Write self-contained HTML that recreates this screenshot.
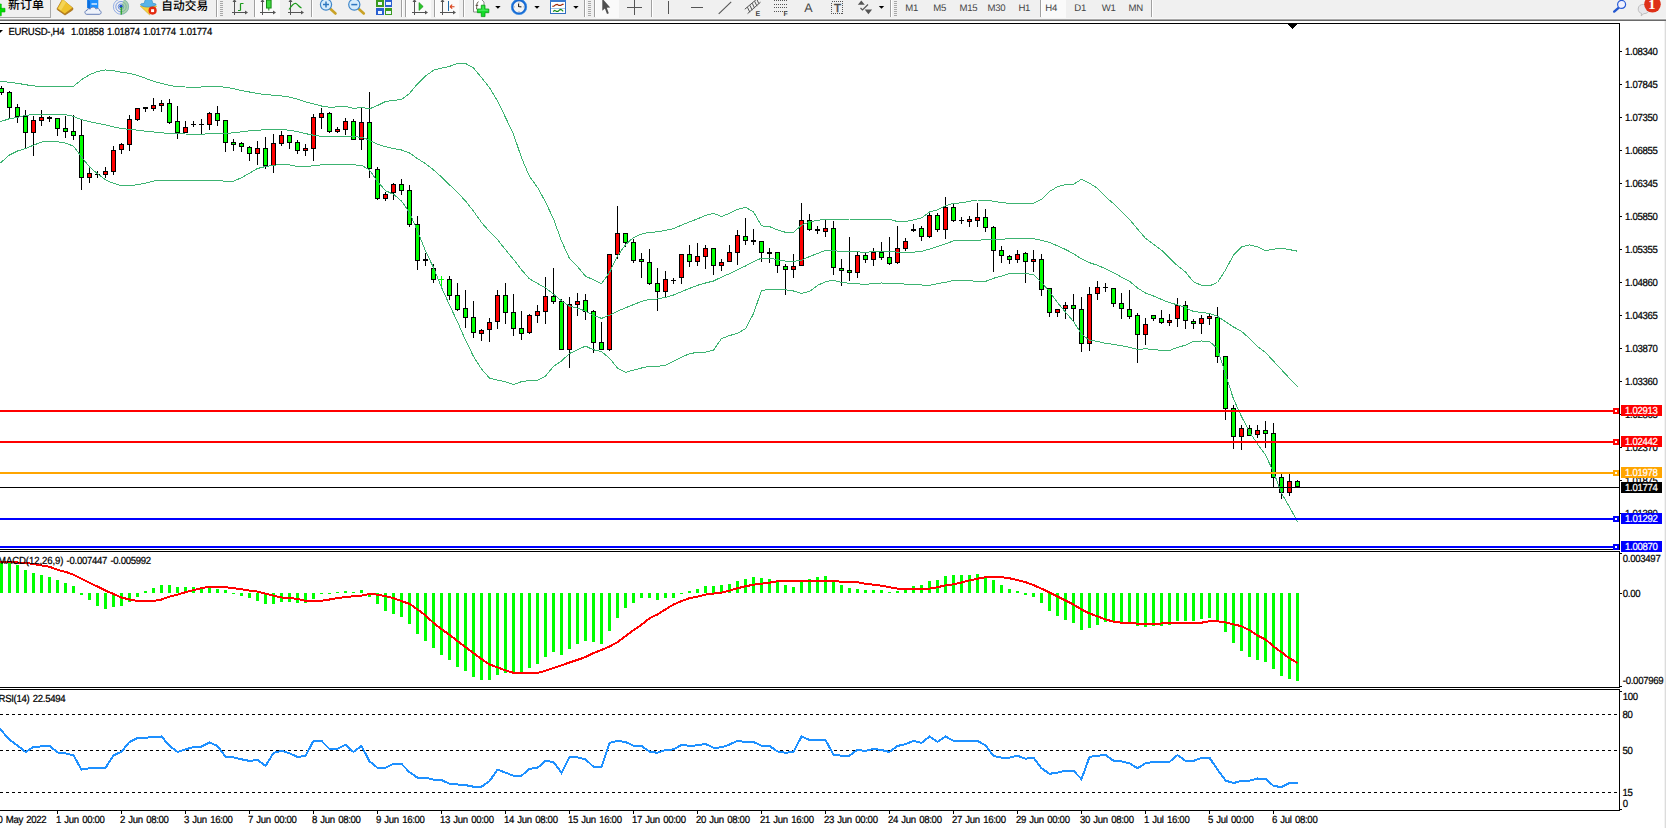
<!DOCTYPE html>
<html lang="zh"><head><meta charset="utf-8"><title>EURUSD-,H4</title>
<style>
html,body{margin:0;padding:0;background:#fff}
body{width:1666px;height:828px;overflow:hidden}
svg{display:block;position:absolute;left:0;top:0}
text{font-family:"Liberation Sans","Noto Sans CJK SC",sans-serif;font-size:9.6px;letter-spacing:-0.3px;word-spacing:0.9px;fill:#000;text-rendering:geometricPrecision;stroke:#000;stroke-width:.22px}
.cj{stroke:none;font-size:12px;font-weight:500;letter-spacing:0}
.tb{fill:#444;stroke:none}
.w{fill:#fff;stroke:#fff}
</style></head><body>
<svg width="1666" height="828" viewBox="0 0 1666 828">
<rect x="0" y="0" width="1666" height="828" fill="#fff"/>
<g shape-rendering="crispEdges">
<rect x="0" y="0" width="1666" height="19" fill="#f0f0f0"/>
<rect x="0" y="18" width="1666" height="1" fill="#f6f6f6"/><rect x="0" y="19" width="1666" height="1" fill="#a8a8a8"/>
<rect x="0" y="20" width="1666" height="1" fill="#6a6a6a"/>
<rect x="1664" y="21" width="1" height="807" fill="#f3f3f3"/><rect x="1665" y="21" width="1" height="807" fill="#dcdcdc"/>
<rect x="0" y="23" width="1620" height="1" fill="#000"/>
<rect x="1619" y="23" width="1" height="788" fill="#000"/>
<rect x="0" y="549" width="1620" height="1" fill="#000"/>
<rect x="0" y="550" width="1620" height="1" fill="#fff"/>
<rect x="0" y="551" width="1620" height="1" fill="#000"/>
<rect x="0" y="687" width="1620" height="1" fill="#000"/>
<rect x="0" y="688" width="1620" height="1" fill="#fff"/>
<rect x="0" y="689" width="1620" height="1" fill="#000"/>
<rect x="0" y="810" width="1620" height="1" fill="#000"/>
</g>
<g id="candles" shape-rendering="crispEdges">
<rect x="1" y="86" width="1" height="9" fill="#000"/><rect x="-1" y="88" width="5" height="5" fill="#000"/><rect x="0" y="89" width="3" height="3" fill="#0f0"/>
<rect x="9" y="91" width="1" height="27" fill="#000"/><rect x="7" y="92" width="5" height="16" fill="#000"/><rect x="8" y="93" width="3" height="14" fill="#0f0"/>
<rect x="17" y="104" width="1" height="19" fill="#000"/><rect x="15" y="107" width="5" height="10" fill="#000"/><rect x="16" y="108" width="3" height="8" fill="#0f0"/>
<rect x="25" y="110" width="1" height="39" fill="#000"/><rect x="23" y="116" width="5" height="17" fill="#000"/><rect x="24" y="117" width="3" height="15" fill="#0f0"/>
<rect x="33" y="116" width="1" height="40" fill="#000"/><rect x="31" y="120" width="5" height="13" fill="#000"/><rect x="32" y="121" width="3" height="11" fill="#f00"/>
<rect x="41" y="110" width="1" height="16" fill="#000"/><rect x="39" y="117" width="5" height="4" fill="#000"/><rect x="40" y="118" width="3" height="2" fill="#f00"/>
<rect x="49" y="116" width="1" height="6" fill="#000"/><rect x="47" y="117" width="5" height="2" fill="#000"/>
<rect x="57" y="118" width="1" height="18" fill="#000"/><rect x="55" y="118" width="5" height="11" fill="#000"/><rect x="56" y="119" width="3" height="9" fill="#0f0"/>
<rect x="65" y="116" width="1" height="22" fill="#000"/><rect x="63" y="128" width="5" height="4" fill="#000"/><rect x="64" y="129" width="3" height="2" fill="#0f0"/>
<rect x="73" y="115" width="1" height="25" fill="#000"/><rect x="71" y="131" width="5" height="5" fill="#000"/><rect x="72" y="132" width="3" height="3" fill="#0f0"/>
<rect x="81" y="120" width="1" height="70" fill="#000"/><rect x="79" y="135" width="5" height="43" fill="#000"/><rect x="80" y="136" width="3" height="41" fill="#0f0"/>
<rect x="89" y="168" width="1" height="15" fill="#000"/><rect x="87" y="173" width="5" height="5" fill="#000"/><rect x="88" y="174" width="3" height="3" fill="#f00"/>
<rect x="97" y="171" width="1" height="7" fill="#000"/><rect x="95" y="174" width="5" height="1" fill="#000"/>
<rect x="105" y="167" width="1" height="11" fill="#000"/><rect x="103" y="171" width="5" height="4" fill="#000"/><rect x="104" y="172" width="3" height="2" fill="#f00"/>
<rect x="113" y="146" width="1" height="29" fill="#000"/><rect x="111" y="150" width="5" height="22" fill="#000"/><rect x="112" y="151" width="3" height="20" fill="#f00"/>
<rect x="121" y="143" width="1" height="11" fill="#000"/><rect x="119" y="144" width="5" height="6" fill="#000"/><rect x="120" y="145" width="3" height="4" fill="#f00"/>
<rect x="129" y="115" width="1" height="36" fill="#000"/><rect x="127" y="119" width="5" height="26" fill="#000"/><rect x="128" y="120" width="3" height="24" fill="#f00"/>
<rect x="137" y="108" width="1" height="13" fill="#000"/><rect x="135" y="108" width="5" height="12" fill="#000"/><rect x="136" y="109" width="3" height="10" fill="#f00"/>
<rect x="145" y="107" width="1" height="5" fill="#000"/><rect x="143" y="107" width="5" height="2" fill="#000"/>
<rect x="153" y="98" width="1" height="13" fill="#000"/><rect x="151" y="105" width="5" height="4" fill="#000"/><rect x="152" y="106" width="3" height="2" fill="#f00"/>
<rect x="161" y="100" width="1" height="12" fill="#000"/><rect x="159" y="103" width="5" height="3" fill="#000"/><rect x="160" y="104" width="3" height="1" fill="#f00"/>
<rect x="169" y="99" width="1" height="25" fill="#000"/><rect x="167" y="103" width="5" height="20" fill="#000"/><rect x="168" y="104" width="3" height="18" fill="#0f0"/>
<rect x="177" y="106" width="1" height="33" fill="#000"/><rect x="175" y="121" width="5" height="12" fill="#000"/><rect x="176" y="122" width="3" height="10" fill="#0f0"/>
<rect x="185" y="121" width="1" height="12" fill="#000"/><rect x="183" y="127" width="5" height="6" fill="#000"/><rect x="184" y="128" width="3" height="4" fill="#f00"/>
<rect x="193" y="121" width="1" height="6" fill="#000"/><rect x="191" y="124" width="5" height="1" fill="#000"/>
<rect x="201" y="119" width="1" height="16" fill="#000"/><rect x="199" y="124" width="5" height="1" fill="#000"/>
<rect x="209" y="112" width="1" height="18" fill="#000"/><rect x="207" y="113" width="5" height="12" fill="#000"/><rect x="208" y="114" width="3" height="10" fill="#f00"/>
<rect x="217" y="106" width="1" height="20" fill="#000"/><rect x="215" y="113" width="5" height="8" fill="#000"/><rect x="216" y="114" width="3" height="6" fill="#0f0"/>
<rect x="225" y="120" width="1" height="32" fill="#000"/><rect x="223" y="120" width="5" height="23" fill="#000"/><rect x="224" y="121" width="3" height="21" fill="#0f0"/>
<rect x="233" y="139" width="1" height="12" fill="#000"/><rect x="231" y="142" width="5" height="3" fill="#000"/><rect x="232" y="143" width="3" height="1" fill="#0f0"/>
<rect x="241" y="142" width="1" height="10" fill="#000"/><rect x="239" y="143" width="5" height="4" fill="#000"/><rect x="240" y="144" width="3" height="2" fill="#0f0"/>
<rect x="249" y="146" width="1" height="15" fill="#000"/><rect x="247" y="147" width="5" height="7" fill="#000"/><rect x="248" y="148" width="3" height="5" fill="#0f0"/>
<rect x="257" y="141" width="1" height="24" fill="#000"/><rect x="255" y="148" width="5" height="6" fill="#000"/><rect x="256" y="149" width="3" height="4" fill="#f00"/>
<rect x="265" y="137" width="1" height="32" fill="#000"/><rect x="263" y="148" width="5" height="18" fill="#000"/><rect x="264" y="149" width="3" height="16" fill="#0f0"/>
<rect x="273" y="134" width="1" height="39" fill="#000"/><rect x="271" y="143" width="5" height="23" fill="#000"/><rect x="272" y="144" width="3" height="21" fill="#f00"/>
<rect x="281" y="131" width="1" height="15" fill="#000"/><rect x="279" y="135" width="5" height="9" fill="#000"/><rect x="280" y="136" width="3" height="7" fill="#f00"/>
<rect x="289" y="135" width="1" height="14" fill="#000"/><rect x="287" y="135" width="5" height="8" fill="#000"/><rect x="288" y="136" width="3" height="6" fill="#0f0"/>
<rect x="297" y="140" width="1" height="14" fill="#000"/><rect x="295" y="142" width="5" height="9" fill="#000"/><rect x="296" y="143" width="3" height="7" fill="#0f0"/>
<rect x="305" y="144" width="1" height="12" fill="#000"/><rect x="303" y="148" width="5" height="3" fill="#000"/><rect x="304" y="149" width="3" height="1" fill="#f00"/>
<rect x="313" y="114" width="1" height="47" fill="#000"/><rect x="311" y="117" width="5" height="32" fill="#000"/><rect x="312" y="118" width="3" height="30" fill="#f00"/>
<rect x="321" y="108" width="1" height="21" fill="#000"/><rect x="319" y="113" width="5" height="5" fill="#000"/><rect x="320" y="114" width="3" height="3" fill="#f00"/>
<rect x="329" y="112" width="1" height="21" fill="#000"/><rect x="327" y="113" width="5" height="19" fill="#000"/><rect x="328" y="114" width="3" height="17" fill="#0f0"/>
<rect x="337" y="127" width="1" height="6" fill="#000"/><rect x="335" y="129" width="5" height="3" fill="#000"/><rect x="336" y="130" width="3" height="1" fill="#f00"/>
<rect x="345" y="118" width="1" height="17" fill="#000"/><rect x="343" y="121" width="5" height="9" fill="#000"/><rect x="344" y="122" width="3" height="7" fill="#f00"/>
<rect x="353" y="119" width="1" height="21" fill="#000"/><rect x="351" y="121" width="5" height="19" fill="#000"/><rect x="352" y="122" width="3" height="17" fill="#0f0"/>
<rect x="361" y="108" width="1" height="42" fill="#000"/><rect x="359" y="122" width="5" height="18" fill="#000"/><rect x="360" y="123" width="3" height="16" fill="#f00"/>
<rect x="369" y="92" width="1" height="86" fill="#000"/><rect x="367" y="122" width="5" height="47" fill="#000"/><rect x="368" y="123" width="3" height="45" fill="#0f0"/>
<rect x="377" y="167" width="1" height="33" fill="#000"/><rect x="375" y="169" width="5" height="30" fill="#000"/><rect x="376" y="170" width="3" height="28" fill="#0f0"/>
<rect x="385" y="192" width="1" height="9" fill="#000"/><rect x="383" y="194" width="5" height="5" fill="#000"/><rect x="384" y="195" width="3" height="3" fill="#f00"/>
<rect x="393" y="183" width="1" height="17" fill="#000"/><rect x="391" y="184" width="5" height="9" fill="#000"/><rect x="392" y="185" width="3" height="7" fill="#f00"/>
<rect x="401" y="179" width="1" height="16" fill="#000"/><rect x="399" y="184" width="5" height="7" fill="#000"/><rect x="400" y="185" width="3" height="5" fill="#0f0"/>
<rect x="409" y="185" width="1" height="42" fill="#000"/><rect x="407" y="190" width="5" height="35" fill="#000"/><rect x="408" y="191" width="3" height="33" fill="#0f0"/>
<rect x="417" y="216" width="1" height="54" fill="#000"/><rect x="415" y="224" width="5" height="37" fill="#000"/><rect x="416" y="225" width="3" height="35" fill="#0f0"/>
<rect x="425" y="253" width="1" height="13" fill="#000"/><rect x="423" y="259" width="5" height="2" fill="#000"/>
<rect x="433" y="264" width="1" height="19" fill="#000"/><rect x="431" y="268" width="5" height="12" fill="#000"/><rect x="432" y="269" width="3" height="10" fill="#0f0"/>
<rect x="441" y="276" width="1" height="12" fill="#0f0"/><rect x="439" y="279" width="5" height="1" fill="#0f0"/>
<rect x="449" y="276" width="1" height="24" fill="#000"/><rect x="447" y="279" width="5" height="17" fill="#000"/><rect x="448" y="280" width="3" height="15" fill="#0f0"/>
<rect x="457" y="283" width="1" height="28" fill="#000"/><rect x="455" y="295" width="5" height="15" fill="#000"/><rect x="456" y="296" width="3" height="13" fill="#0f0"/>
<rect x="465" y="290" width="1" height="38" fill="#000"/><rect x="463" y="308" width="5" height="10" fill="#000"/><rect x="464" y="309" width="3" height="8" fill="#0f0"/>
<rect x="473" y="301" width="1" height="37" fill="#000"/><rect x="471" y="317" width="5" height="16" fill="#000"/><rect x="472" y="318" width="3" height="14" fill="#0f0"/>
<rect x="481" y="329" width="1" height="12" fill="#000"/><rect x="479" y="330" width="5" height="4" fill="#000"/><rect x="480" y="331" width="3" height="2" fill="#f00"/>
<rect x="489" y="318" width="1" height="24" fill="#000"/><rect x="487" y="322" width="5" height="8" fill="#000"/><rect x="488" y="323" width="3" height="6" fill="#f00"/>
<rect x="497" y="290" width="1" height="39" fill="#000"/><rect x="495" y="295" width="5" height="27" fill="#000"/><rect x="496" y="296" width="3" height="25" fill="#f00"/>
<rect x="505" y="283" width="1" height="41" fill="#000"/><rect x="503" y="295" width="5" height="18" fill="#000"/><rect x="504" y="296" width="3" height="16" fill="#0f0"/>
<rect x="513" y="294" width="1" height="42" fill="#000"/><rect x="511" y="312" width="5" height="17" fill="#000"/><rect x="512" y="313" width="3" height="15" fill="#0f0"/>
<rect x="521" y="311" width="1" height="29" fill="#000"/><rect x="519" y="328" width="5" height="6" fill="#000"/><rect x="520" y="329" width="3" height="4" fill="#0f0"/>
<rect x="529" y="314" width="1" height="20" fill="#000"/><rect x="527" y="315" width="5" height="18" fill="#000"/><rect x="528" y="316" width="3" height="16" fill="#f00"/>
<rect x="537" y="305" width="1" height="18" fill="#000"/><rect x="535" y="311" width="5" height="5" fill="#000"/><rect x="536" y="312" width="3" height="3" fill="#f00"/>
<rect x="545" y="277" width="1" height="47" fill="#000"/><rect x="543" y="296" width="5" height="16" fill="#000"/><rect x="544" y="297" width="3" height="14" fill="#f00"/>
<rect x="553" y="268" width="1" height="36" fill="#000"/><rect x="551" y="296" width="5" height="6" fill="#000"/><rect x="552" y="297" width="3" height="4" fill="#0f0"/>
<rect x="561" y="299" width="1" height="51" fill="#000"/><rect x="559" y="301" width="5" height="49" fill="#000"/><rect x="560" y="302" width="3" height="47" fill="#0f0"/>
<rect x="569" y="297" width="1" height="71" fill="#000"/><rect x="567" y="304" width="5" height="46" fill="#000"/><rect x="568" y="305" width="3" height="44" fill="#f00"/>
<rect x="577" y="293" width="1" height="23" fill="#000"/><rect x="575" y="301" width="5" height="4" fill="#000"/><rect x="576" y="302" width="3" height="2" fill="#f00"/>
<rect x="585" y="294" width="1" height="26" fill="#000"/><rect x="583" y="300" width="5" height="12" fill="#000"/><rect x="584" y="301" width="3" height="10" fill="#0f0"/>
<rect x="593" y="310" width="1" height="43" fill="#000"/><rect x="591" y="311" width="5" height="32" fill="#000"/><rect x="592" y="312" width="3" height="30" fill="#0f0"/>
<rect x="601" y="322" width="1" height="28" fill="#000"/><rect x="599" y="342" width="5" height="8" fill="#000"/><rect x="600" y="343" width="3" height="6" fill="#0f0"/>
<rect x="609" y="254" width="1" height="97" fill="#000"/><rect x="607" y="254" width="5" height="96" fill="#000"/><rect x="608" y="255" width="3" height="94" fill="#f00"/>
<rect x="617" y="206" width="1" height="53" fill="#000"/><rect x="615" y="233" width="5" height="22" fill="#000"/><rect x="616" y="234" width="3" height="20" fill="#f00"/>
<rect x="625" y="233" width="1" height="14" fill="#000"/><rect x="623" y="233" width="5" height="10" fill="#000"/><rect x="624" y="234" width="3" height="8" fill="#0f0"/>
<rect x="633" y="239" width="1" height="24" fill="#000"/><rect x="631" y="242" width="5" height="19" fill="#000"/><rect x="632" y="243" width="3" height="17" fill="#0f0"/>
<rect x="641" y="253" width="1" height="25" fill="#000"/><rect x="639" y="259" width="5" height="3" fill="#000"/><rect x="640" y="260" width="3" height="1" fill="#0f0"/>
<rect x="649" y="249" width="1" height="36" fill="#000"/><rect x="647" y="262" width="5" height="22" fill="#000"/><rect x="648" y="263" width="3" height="20" fill="#0f0"/>
<rect x="657" y="268" width="1" height="43" fill="#000"/><rect x="655" y="283" width="5" height="9" fill="#000"/><rect x="656" y="284" width="3" height="7" fill="#0f0"/>
<rect x="665" y="271" width="1" height="26" fill="#000"/><rect x="663" y="279" width="5" height="13" fill="#000"/><rect x="664" y="280" width="3" height="11" fill="#f00"/>
<rect x="673" y="278" width="1" height="6" fill="#000"/><rect x="671" y="280" width="5" height="1" fill="#000"/>
<rect x="681" y="254" width="1" height="30" fill="#000"/><rect x="679" y="254" width="5" height="24" fill="#000"/><rect x="680" y="255" width="3" height="22" fill="#f00"/>
<rect x="689" y="245" width="1" height="22" fill="#000"/><rect x="687" y="254" width="5" height="8" fill="#000"/><rect x="688" y="255" width="3" height="6" fill="#0f0"/>
<rect x="697" y="243" width="1" height="23" fill="#000"/><rect x="695" y="256" width="5" height="6" fill="#000"/><rect x="696" y="257" width="3" height="4" fill="#f00"/>
<rect x="705" y="245" width="1" height="24" fill="#000"/><rect x="703" y="248" width="5" height="9" fill="#000"/><rect x="704" y="249" width="3" height="7" fill="#f00"/>
<rect x="713" y="248" width="1" height="27" fill="#000"/><rect x="711" y="248" width="5" height="18" fill="#000"/><rect x="712" y="249" width="3" height="16" fill="#0f0"/>
<rect x="721" y="259" width="1" height="12" fill="#000"/><rect x="719" y="262" width="5" height="4" fill="#000"/><rect x="720" y="263" width="3" height="2" fill="#f00"/>
<rect x="729" y="245" width="1" height="17" fill="#000"/><rect x="727" y="252" width="5" height="10" fill="#000"/><rect x="728" y="253" width="3" height="8" fill="#f00"/>
<rect x="737" y="230" width="1" height="35" fill="#000"/><rect x="735" y="235" width="5" height="18" fill="#000"/><rect x="736" y="236" width="3" height="16" fill="#f00"/>
<rect x="745" y="218" width="1" height="27" fill="#000"/><rect x="743" y="236" width="5" height="5" fill="#000"/><rect x="744" y="237" width="3" height="3" fill="#0f0"/>
<rect x="753" y="229" width="1" height="16" fill="#000"/><rect x="751" y="240" width="5" height="2" fill="#000"/>
<rect x="761" y="241" width="1" height="21" fill="#000"/><rect x="759" y="241" width="5" height="12" fill="#000"/><rect x="760" y="242" width="3" height="10" fill="#0f0"/>
<rect x="769" y="248" width="1" height="15" fill="#000"/><rect x="767" y="252" width="5" height="2" fill="#000"/>
<rect x="777" y="252" width="1" height="21" fill="#000"/><rect x="775" y="252" width="5" height="14" fill="#000"/><rect x="776" y="253" width="3" height="12" fill="#0f0"/>
<rect x="785" y="264" width="1" height="31" fill="#000"/><rect x="783" y="266" width="5" height="4" fill="#000"/><rect x="784" y="267" width="3" height="2" fill="#0f0"/>
<rect x="793" y="254" width="1" height="24" fill="#000"/><rect x="791" y="266" width="5" height="4" fill="#000"/><rect x="792" y="267" width="3" height="2" fill="#f00"/>
<rect x="801" y="203" width="1" height="63" fill="#000"/><rect x="799" y="220" width="5" height="46" fill="#000"/><rect x="800" y="221" width="3" height="44" fill="#f00"/>
<rect x="809" y="214" width="1" height="17" fill="#000"/><rect x="807" y="220" width="5" height="10" fill="#000"/><rect x="808" y="221" width="3" height="8" fill="#0f0"/>
<rect x="817" y="226" width="1" height="8" fill="#000"/><rect x="815" y="229" width="5" height="2" fill="#000"/>
<rect x="825" y="220" width="1" height="17" fill="#000"/><rect x="823" y="228" width="5" height="4" fill="#000"/><rect x="824" y="229" width="3" height="2" fill="#f00"/>
<rect x="833" y="221" width="1" height="54" fill="#000"/><rect x="831" y="228" width="5" height="40" fill="#000"/><rect x="832" y="229" width="3" height="38" fill="#0f0"/>
<rect x="841" y="259" width="1" height="27" fill="#000"/><rect x="839" y="268" width="5" height="3" fill="#000"/><rect x="840" y="269" width="3" height="1" fill="#0f0"/>
<rect x="849" y="237" width="1" height="44" fill="#000"/><rect x="847" y="270" width="5" height="3" fill="#000"/><rect x="848" y="271" width="3" height="1" fill="#0f0"/>
<rect x="857" y="252" width="1" height="26" fill="#000"/><rect x="855" y="255" width="5" height="18" fill="#000"/><rect x="856" y="256" width="3" height="16" fill="#f00"/>
<rect x="865" y="253" width="1" height="10" fill="#000"/><rect x="863" y="255" width="5" height="5" fill="#000"/><rect x="864" y="256" width="3" height="3" fill="#0f0"/>
<rect x="873" y="248" width="1" height="18" fill="#000"/><rect x="871" y="252" width="5" height="8" fill="#000"/><rect x="872" y="253" width="3" height="6" fill="#f00"/>
<rect x="881" y="242" width="1" height="18" fill="#000"/><rect x="879" y="252" width="5" height="6" fill="#000"/><rect x="880" y="253" width="3" height="4" fill="#0f0"/>
<rect x="889" y="237" width="1" height="28" fill="#000"/><rect x="887" y="257" width="5" height="7" fill="#000"/><rect x="888" y="258" width="3" height="5" fill="#0f0"/>
<rect x="897" y="226" width="1" height="38" fill="#000"/><rect x="895" y="248" width="5" height="15" fill="#000"/><rect x="896" y="249" width="3" height="13" fill="#f00"/>
<rect x="905" y="238" width="1" height="13" fill="#000"/><rect x="903" y="241" width="5" height="8" fill="#000"/><rect x="904" y="242" width="3" height="6" fill="#f00"/>
<rect x="913" y="224" width="1" height="8" fill="#000"/><rect x="911" y="229" width="5" height="2" fill="#000"/>
<rect x="921" y="226" width="1" height="15" fill="#000"/><rect x="919" y="228" width="5" height="9" fill="#000"/><rect x="920" y="229" width="3" height="7" fill="#0f0"/>
<rect x="929" y="213" width="1" height="25" fill="#000"/><rect x="927" y="215" width="5" height="22" fill="#000"/><rect x="928" y="216" width="3" height="20" fill="#f00"/>
<rect x="937" y="213" width="1" height="19" fill="#000"/><rect x="935" y="215" width="5" height="15" fill="#000"/><rect x="936" y="216" width="3" height="13" fill="#0f0"/>
<rect x="945" y="197" width="1" height="42" fill="#000"/><rect x="943" y="207" width="5" height="23" fill="#000"/><rect x="944" y="208" width="3" height="21" fill="#f00"/>
<rect x="953" y="204" width="1" height="18" fill="#000"/><rect x="951" y="207" width="5" height="14" fill="#000"/><rect x="952" y="208" width="3" height="12" fill="#0f0"/>
<rect x="961" y="217" width="1" height="7" fill="#000"/><rect x="959" y="220" width="5" height="1" fill="#000"/>
<rect x="969" y="216" width="1" height="11" fill="#000"/><rect x="967" y="219" width="5" height="3" fill="#000"/><rect x="968" y="220" width="3" height="1" fill="#f00"/>
<rect x="977" y="203" width="1" height="24" fill="#000"/><rect x="975" y="217" width="5" height="4" fill="#000"/><rect x="976" y="218" width="3" height="2" fill="#f00"/>
<rect x="985" y="209" width="1" height="23" fill="#000"/><rect x="983" y="217" width="5" height="11" fill="#000"/><rect x="984" y="218" width="3" height="9" fill="#0f0"/>
<rect x="993" y="226" width="1" height="46" fill="#000"/><rect x="991" y="227" width="5" height="24" fill="#000"/><rect x="992" y="228" width="3" height="22" fill="#0f0"/>
<rect x="1001" y="246" width="1" height="17" fill="#000"/><rect x="999" y="250" width="5" height="6" fill="#000"/><rect x="1000" y="251" width="3" height="4" fill="#0f0"/>
<rect x="1009" y="255" width="1" height="9" fill="#000"/><rect x="1007" y="256" width="5" height="4" fill="#000"/><rect x="1008" y="257" width="3" height="2" fill="#0f0"/>
<rect x="1017" y="250" width="1" height="13" fill="#000"/><rect x="1015" y="254" width="5" height="6" fill="#000"/><rect x="1016" y="255" width="3" height="4" fill="#f00"/>
<rect x="1025" y="252" width="1" height="31" fill="#000"/><rect x="1023" y="253" width="5" height="9" fill="#000"/><rect x="1024" y="254" width="3" height="7" fill="#0f0"/>
<rect x="1033" y="250" width="1" height="22" fill="#000"/><rect x="1031" y="259" width="5" height="3" fill="#000"/><rect x="1032" y="260" width="3" height="1" fill="#f00"/>
<rect x="1041" y="254" width="1" height="42" fill="#000"/><rect x="1039" y="259" width="5" height="31" fill="#000"/><rect x="1040" y="260" width="3" height="29" fill="#0f0"/>
<rect x="1049" y="288" width="1" height="29" fill="#000"/><rect x="1047" y="288" width="5" height="25" fill="#000"/><rect x="1048" y="289" width="3" height="23" fill="#0f0"/>
<rect x="1057" y="309" width="1" height="8" fill="#000"/><rect x="1055" y="309" width="5" height="4" fill="#000"/><rect x="1056" y="310" width="3" height="2" fill="#f00"/>
<rect x="1065" y="302" width="1" height="17" fill="#000"/><rect x="1063" y="305" width="5" height="4" fill="#000"/><rect x="1064" y="306" width="3" height="2" fill="#f00"/>
<rect x="1073" y="294" width="1" height="27" fill="#000"/><rect x="1071" y="305" width="5" height="4" fill="#000"/><rect x="1072" y="306" width="3" height="2" fill="#0f0"/>
<rect x="1081" y="297" width="1" height="55" fill="#000"/><rect x="1079" y="309" width="5" height="35" fill="#000"/><rect x="1080" y="310" width="3" height="33" fill="#0f0"/>
<rect x="1089" y="287" width="1" height="64" fill="#000"/><rect x="1087" y="294" width="5" height="50" fill="#000"/><rect x="1088" y="295" width="3" height="48" fill="#f00"/>
<rect x="1097" y="281" width="1" height="19" fill="#000"/><rect x="1095" y="287" width="5" height="7" fill="#000"/><rect x="1096" y="288" width="3" height="5" fill="#f00"/>
<rect x="1105" y="283" width="1" height="9" fill="#000"/><rect x="1103" y="287" width="5" height="1" fill="#000"/>
<rect x="1113" y="288" width="1" height="19" fill="#000"/><rect x="1111" y="288" width="5" height="16" fill="#000"/><rect x="1112" y="289" width="3" height="14" fill="#0f0"/>
<rect x="1121" y="293" width="1" height="26" fill="#000"/><rect x="1119" y="303" width="5" height="6" fill="#000"/><rect x="1120" y="304" width="3" height="4" fill="#0f0"/>
<rect x="1129" y="290" width="1" height="29" fill="#000"/><rect x="1127" y="309" width="5" height="8" fill="#000"/><rect x="1128" y="310" width="3" height="6" fill="#0f0"/>
<rect x="1137" y="313" width="1" height="50" fill="#000"/><rect x="1135" y="315" width="5" height="20" fill="#000"/><rect x="1136" y="316" width="3" height="18" fill="#0f0"/>
<rect x="1145" y="318" width="1" height="27" fill="#000"/><rect x="1143" y="324" width="5" height="11" fill="#000"/><rect x="1144" y="325" width="3" height="9" fill="#f00"/>
<rect x="1153" y="315" width="1" height="6" fill="#000"/><rect x="1151" y="315" width="5" height="4" fill="#000"/><rect x="1152" y="316" width="3" height="2" fill="#0f0"/>
<rect x="1161" y="310" width="1" height="14" fill="#000"/><rect x="1159" y="318" width="5" height="5" fill="#000"/><rect x="1160" y="319" width="3" height="3" fill="#0f0"/>
<rect x="1169" y="314" width="1" height="12" fill="#000"/><rect x="1167" y="320" width="5" height="3" fill="#000"/><rect x="1168" y="321" width="3" height="1" fill="#f00"/>
<rect x="1177" y="298" width="1" height="29" fill="#000"/><rect x="1175" y="305" width="5" height="14" fill="#000"/><rect x="1176" y="306" width="3" height="12" fill="#f00"/>
<rect x="1185" y="301" width="1" height="28" fill="#000"/><rect x="1183" y="305" width="5" height="16" fill="#000"/><rect x="1184" y="306" width="3" height="14" fill="#0f0"/>
<rect x="1193" y="319" width="1" height="10" fill="#000"/><rect x="1191" y="321" width="5" height="3" fill="#000"/><rect x="1192" y="322" width="3" height="1" fill="#0f0"/>
<rect x="1201" y="315" width="1" height="19" fill="#000"/><rect x="1199" y="318" width="5" height="6" fill="#000"/><rect x="1200" y="319" width="3" height="4" fill="#f00"/>
<rect x="1209" y="314" width="1" height="11" fill="#000"/><rect x="1207" y="316" width="5" height="3" fill="#000"/><rect x="1208" y="317" width="3" height="1" fill="#f00"/>
<rect x="1217" y="307" width="1" height="56" fill="#000"/><rect x="1215" y="317" width="5" height="40" fill="#000"/><rect x="1216" y="318" width="3" height="38" fill="#0f0"/>
<rect x="1225" y="356" width="1" height="64" fill="#000"/><rect x="1223" y="356" width="5" height="53" fill="#000"/><rect x="1224" y="357" width="3" height="51" fill="#0f0"/>
<rect x="1233" y="405" width="1" height="44" fill="#000"/><rect x="1231" y="408" width="5" height="29" fill="#000"/><rect x="1232" y="409" width="3" height="27" fill="#0f0"/>
<rect x="1241" y="425" width="1" height="25" fill="#000"/><rect x="1239" y="428" width="5" height="9" fill="#000"/><rect x="1240" y="429" width="3" height="7" fill="#f00"/>
<rect x="1249" y="425" width="1" height="11" fill="#000"/><rect x="1247" y="428" width="5" height="8" fill="#000"/><rect x="1248" y="429" width="3" height="6" fill="#0f0"/>
<rect x="1257" y="425" width="1" height="13" fill="#000"/><rect x="1255" y="430" width="5" height="5" fill="#000"/><rect x="1256" y="431" width="3" height="3" fill="#f00"/>
<rect x="1265" y="421" width="1" height="27" fill="#000"/><rect x="1263" y="430" width="5" height="4" fill="#000"/><rect x="1264" y="431" width="3" height="2" fill="#0f0"/>
<rect x="1273" y="423" width="1" height="64" fill="#000"/><rect x="1271" y="433" width="5" height="45" fill="#000"/><rect x="1272" y="434" width="3" height="43" fill="#0f0"/>
<rect x="1281" y="474" width="1" height="25" fill="#000"/><rect x="1279" y="477" width="5" height="16" fill="#000"/><rect x="1280" y="478" width="3" height="14" fill="#0f0"/>
<rect x="1289" y="474" width="1" height="22" fill="#000"/><rect x="1287" y="481" width="5" height="12" fill="#000"/><rect x="1288" y="482" width="3" height="10" fill="#f00"/>
<rect x="1297" y="480" width="1" height="7" fill="#000"/><rect x="1295" y="481" width="5" height="6" fill="#000"/><rect x="1296" y="482" width="3" height="4" fill="#0f0"/>
</g>
<g id="bands" shape-rendering="crispEdges">
<polyline points="-6.5,80.3 1.5,81.3 9.5,82.3 17.5,83.3 25.5,84.7 33.5,85.9 41.5,86.6 49.5,86.6 57.5,86.6 65.5,86.6 73.5,86.3 81.5,79.7 89.5,74.8 97.5,71.4 105.5,70.0 113.5,70.8 121.5,72.2 129.5,73.4 137.5,75.4 145.5,78.3 153.5,81.3 161.5,83.3 169.5,85.3 177.5,86.8 185.5,87.0 193.5,87.2 201.5,87.0 209.5,86.6 217.5,86.6 225.5,87.2 233.5,88.6 241.5,90.6 249.5,92.0 257.5,93.6 265.5,94.6 273.5,95.2 281.5,96.0 289.5,97.1 297.5,99.1 305.5,101.9 313.5,103.9 321.5,106.0 329.5,107.2 337.5,106.9 345.5,106.5 353.5,108.4 361.5,107.4 369.5,108.8 377.5,105.5 385.5,101.5 393.5,100.5 401.5,99.5 409.5,93.5 417.5,83.8 425.5,76.1 433.5,70.2 441.5,68.2 449.5,66.4 457.5,63.5 465.5,63.5 473.5,67.8 481.5,77.7 489.5,87.6 497.5,101.1 505.5,117.4 513.5,134.2 521.5,157.8 529.5,176.4 537.5,187.4 545.5,202.0 553.5,219.0 561.5,241.0 569.5,258.6 577.5,266.6 585.5,276.2 593.5,279.8 601.5,283.8 609.5,272.6 617.5,256.0 625.5,244.7 633.5,237.5 641.5,234.1 649.5,232.3 657.5,231.9 665.5,230.3 673.5,228.6 681.5,225.2 689.5,221.9 697.5,218.9 705.5,215.3 713.5,213.3 721.5,216.6 729.5,213.3 737.5,209.3 745.5,207.3 753.5,212.0 761.5,225.9 769.5,226.6 777.5,229.9 785.5,232.3 793.5,232.3 801.5,225.2 809.5,221.8 817.5,220.4 825.5,219.2 833.5,219.9 841.5,219.5 849.5,219.0 857.5,219.0 865.5,219.0 873.5,219.0 881.5,219.0 889.5,219.2 897.5,221.6 905.5,221.6 913.5,219.9 921.5,217.9 929.5,211.9 937.5,209.9 945.5,205.7 953.5,203.3 961.5,202.9 969.5,201.3 977.5,200.0 985.5,200.0 993.5,201.3 1001.5,202.6 1009.5,203.3 1017.5,203.3 1025.5,203.3 1033.5,203.1 1041.5,199.3 1049.5,191.4 1057.5,186.8 1065.5,184.5 1073.5,184.3 1081.5,179.3 1089.5,183.3 1097.5,188.2 1105.5,196.7 1113.5,203.7 1121.5,211.6 1129.5,219.5 1137.5,229.0 1145.5,238.3 1153.5,244.3 1161.5,250.2 1169.5,258.2 1177.5,265.7 1185.5,272.0 1193.5,281.9 1201.5,285.3 1209.5,285.9 1217.5,282.5 1225.5,270.0 1233.5,255.2 1241.5,246.9 1249.5,244.9 1257.5,246.9 1265.5,250.8 1273.5,249.2 1281.5,248.2 1289.5,249.6 1297.5,251.2" fill="none" stroke="#3cb371" stroke-width="1" />
<polyline points="-6.5,123.9 1.5,121.3 9.5,118.7 17.5,117.4 25.5,115.4 33.5,114.6 41.5,114.4 49.5,114.4 57.5,114.4 65.5,114.6 73.5,116.4 81.5,119.7 89.5,121.7 97.5,123.3 105.5,124.9 113.5,126.9 121.5,128.4 129.5,129.4 137.5,130.2 145.5,131.2 153.5,132.0 161.5,132.8 169.5,133.4 177.5,133.8 185.5,134.0 193.5,134.2 201.5,134.2 209.5,133.8 217.5,133.6 225.5,133.4 233.5,132.8 241.5,131.8 249.5,130.8 257.5,130.2 265.5,129.8 273.5,129.6 281.5,129.6 289.5,130.2 297.5,131.6 305.5,133.6 313.5,135.2 321.5,136.4 329.5,136.6 337.5,136.6 345.5,136.6 353.5,136.8 361.5,137.2 369.5,140.1 377.5,144.1 385.5,146.7 393.5,148.5 401.5,150.0 409.5,153.0 417.5,158.6 425.5,163.6 433.5,169.9 441.5,177.0 449.5,184.8 457.5,192.5 465.5,201.0 473.5,211.2 481.5,222.4 489.5,231.7 497.5,239.7 505.5,249.7 513.5,259.3 521.5,269.8 529.5,278.9 537.5,283.5 545.5,287.8 553.5,294.2 561.5,300.8 569.5,306.1 577.5,308.1 585.5,311.2 593.5,315.4 601.5,318.4 609.5,315.1 617.5,311.2 625.5,307.8 633.5,304.6 641.5,301.4 649.5,299.4 657.5,299.0 665.5,297.4 673.5,295.0 681.5,291.7 689.5,288.4 697.5,285.3 705.5,283.0 713.5,281.0 721.5,277.1 729.5,273.7 737.5,269.7 745.5,266.0 753.5,261.8 761.5,258.1 769.5,258.1 777.5,259.8 785.5,261.1 793.5,261.4 801.5,260.2 809.5,256.5 817.5,253.5 825.5,250.4 833.5,250.7 841.5,251.4 849.5,251.4 857.5,251.8 865.5,252.4 873.5,251.4 881.5,251.1 889.5,251.4 897.5,252.2 905.5,252.4 913.5,252.2 921.5,251.4 929.5,249.1 937.5,246.5 945.5,243.8 953.5,240.9 961.5,240.5 969.5,240.5 977.5,240.2 985.5,239.8 993.5,239.4 1001.5,239.2 1009.5,238.8 1017.5,238.4 1025.5,238.2 1033.5,238.7 1041.5,240.3 1049.5,242.3 1057.5,245.9 1065.5,249.4 1073.5,253.8 1081.5,258.8 1089.5,262.7 1097.5,265.3 1105.5,268.7 1113.5,272.6 1121.5,277.2 1129.5,281.2 1137.5,288.0 1145.5,293.0 1153.5,296.0 1161.5,299.4 1169.5,302.7 1177.5,304.8 1185.5,307.7 1193.5,311.5 1201.5,312.5 1209.5,313.5 1217.5,316.2 1225.5,321.7 1233.5,327.0 1241.5,331.3 1249.5,338.5 1257.5,346.5 1265.5,352.5 1273.5,361.1 1281.5,369.7 1289.5,378.4 1297.5,386.8" fill="none" stroke="#3cb371" stroke-width="1" />
<polyline points="-6.5,168.8 1.5,161.9 9.5,155.0 17.5,151.0 25.5,148.7 33.5,145.1 41.5,142.1 49.5,141.3 57.5,141.7 65.5,143.1 73.5,146.1 81.5,157.0 89.5,166.9 97.5,173.8 105.5,179.8 113.5,183.4 121.5,185.7 129.5,185.7 137.5,184.7 145.5,183.1 153.5,181.1 161.5,180.2 169.5,180.3 177.5,180.3 185.5,180.3 193.5,180.3 201.5,180.3 209.5,180.3 217.5,180.3 225.5,181.3 233.5,181.1 241.5,177.8 249.5,173.2 257.5,168.5 265.5,166.5 273.5,165.3 281.5,164.3 289.5,164.9 297.5,166.5 305.5,166.9 313.5,165.5 321.5,164.9 329.5,164.9 337.5,164.9 345.5,164.9 353.5,164.9 361.5,165.3 369.5,170.0 377.5,181.5 385.5,190.7 393.5,194.3 401.5,201.0 409.5,212.5 417.5,231.1 425.5,251.0 433.5,267.6 441.5,287.5 449.5,305.0 457.5,322.0 465.5,340.0 473.5,356.5 481.5,369.1 489.5,378.1 497.5,380.1 505.5,381.7 513.5,384.4 521.5,381.7 529.5,380.4 537.5,380.4 545.5,376.0 553.5,366.4 561.5,361.0 569.5,353.5 577.5,349.8 585.5,346.1 593.5,349.8 601.5,351.6 609.5,358.2 617.5,368.0 625.5,372.4 633.5,370.1 641.5,368.0 649.5,366.4 657.5,366.3 665.5,365.3 673.5,361.1 681.5,357.1 689.5,353.8 697.5,352.2 705.5,352.2 713.5,350.2 721.5,338.5 729.5,335.6 737.5,333.3 745.5,328.8 753.5,313.6 761.5,290.5 769.5,289.3 777.5,289.3 785.5,289.7 793.5,291.0 801.5,293.4 809.5,291.4 817.5,285.4 825.5,281.7 833.5,280.3 841.5,282.3 849.5,283.4 857.5,283.7 865.5,284.6 873.5,283.4 881.5,283.0 889.5,283.4 897.5,283.7 905.5,284.1 913.5,284.6 921.5,285.0 929.5,285.4 937.5,283.7 945.5,282.3 953.5,280.3 961.5,280.3 969.5,280.7 977.5,281.4 985.5,281.4 993.5,278.3 1001.5,276.1 1009.5,273.4 1017.5,273.3 1025.5,273.3 1033.5,274.8 1041.5,282.2 1049.5,291.8 1057.5,302.6 1065.5,312.2 1073.5,321.4 1081.5,334.0 1089.5,340.4 1097.5,341.3 1105.5,343.3 1113.5,344.4 1121.5,345.7 1129.5,347.3 1137.5,349.5 1145.5,348.8 1153.5,349.5 1161.5,350.5 1169.5,350.5 1177.5,347.4 1185.5,345.2 1193.5,341.4 1201.5,341.0 1209.5,341.4 1217.5,348.5 1225.5,374.4 1233.5,399.0 1241.5,416.5 1249.5,432.0 1257.5,444.0 1265.5,455.0 1273.5,472.0 1281.5,493.0 1289.5,507.0 1297.5,521.7" fill="none" stroke="#3cb371" stroke-width="1" />
</g>
<g id="hlines" shape-rendering="crispEdges">
<rect x="0" y="410" width="1619" height="2" fill="#f00"/>
<rect x="0" y="441" width="1619" height="2" fill="#f00"/>
<rect x="0" y="472" width="1619" height="2" fill="#ffa500"/>
<rect x="0" y="518" width="1619" height="2" fill="#00f"/>
<rect x="0" y="546" width="1619" height="2" fill="#00f"/>
<rect x="0" y="487" width="1619" height="1" fill="#000"/>
</g>
<g id="macd" shape-rendering="crispEdges">
<rect x="0" y="562" width="3" height="31" fill="#0f0"/><rect x="8" y="563" width="3" height="30" fill="#0f0"/><rect x="16" y="565" width="3" height="28" fill="#0f0"/><rect x="24" y="570" width="3" height="23" fill="#0f0"/><rect x="32" y="573" width="3" height="20" fill="#0f0"/><rect x="40" y="575" width="3" height="18" fill="#0f0"/><rect x="48" y="577" width="3" height="16" fill="#0f0"/><rect x="56" y="580" width="3" height="13" fill="#0f0"/><rect x="64" y="583" width="3" height="10" fill="#0f0"/><rect x="72" y="586" width="3" height="7" fill="#0f0"/><rect x="80" y="593" width="3" height="2" fill="#0f0"/><rect x="88" y="593" width="3" height="7" fill="#0f0"/><rect x="96" y="593" width="3" height="13" fill="#0f0"/><rect x="104" y="593" width="3" height="16" fill="#0f0"/><rect x="112" y="593" width="3" height="14" fill="#0f0"/><rect x="120" y="593" width="3" height="13" fill="#0f0"/><rect x="128" y="593" width="3" height="9" fill="#0f0"/><rect x="136" y="593" width="3" height="4" fill="#0f0"/><rect x="144" y="591" width="3" height="2" fill="#0f0"/><rect x="152" y="588" width="3" height="5" fill="#0f0"/><rect x="160" y="585" width="3" height="8" fill="#0f0"/><rect x="168" y="585" width="3" height="8" fill="#0f0"/><rect x="176" y="587" width="3" height="6" fill="#0f0"/><rect x="184" y="587" width="3" height="6" fill="#0f0"/><rect x="192" y="587" width="3" height="6" fill="#0f0"/><rect x="200" y="588" width="3" height="5" fill="#0f0"/><rect x="208" y="588" width="3" height="5" fill="#0f0"/><rect x="216" y="589" width="3" height="4" fill="#0f0"/><rect x="224" y="590" width="3" height="3" fill="#0f0"/><rect x="232" y="593" width="3" height="1" fill="#0f0"/><rect x="240" y="593" width="3" height="3" fill="#0f0"/><rect x="248" y="593" width="3" height="5" fill="#0f0"/><rect x="256" y="593" width="3" height="8" fill="#0f0"/><rect x="264" y="593" width="3" height="11" fill="#0f0"/><rect x="272" y="593" width="3" height="11" fill="#0f0"/><rect x="280" y="593" width="3" height="9" fill="#0f0"/><rect x="288" y="593" width="3" height="9" fill="#0f0"/><rect x="296" y="593" width="3" height="10" fill="#0f0"/><rect x="304" y="593" width="3" height="10" fill="#0f0"/><rect x="312" y="593" width="3" height="6" fill="#0f0"/><rect x="320" y="593" width="3" height="1" fill="#0f0"/><rect x="328" y="593" width="3" height="1" fill="#0f0"/><rect x="336" y="592" width="3" height="1" fill="#0f0"/><rect x="344" y="591" width="3" height="2" fill="#0f0"/><rect x="352" y="592" width="3" height="1" fill="#0f0"/><rect x="360" y="590" width="3" height="3" fill="#0f0"/><rect x="368" y="593" width="3" height="4" fill="#0f0"/><rect x="376" y="593" width="3" height="11" fill="#0f0"/><rect x="384" y="593" width="3" height="18" fill="#0f0"/><rect x="392" y="593" width="3" height="21" fill="#0f0"/><rect x="400" y="593" width="3" height="24" fill="#0f0"/><rect x="408" y="593" width="3" height="31" fill="#0f0"/><rect x="416" y="593" width="3" height="41" fill="#0f0"/><rect x="424" y="593" width="3" height="48" fill="#0f0"/><rect x="432" y="593" width="3" height="55" fill="#0f0"/><rect x="440" y="593" width="3" height="62" fill="#0f0"/><rect x="448" y="593" width="3" height="67" fill="#0f0"/><rect x="456" y="593" width="3" height="74" fill="#0f0"/><rect x="464" y="593" width="3" height="78" fill="#0f0"/><rect x="472" y="593" width="3" height="84" fill="#0f0"/><rect x="480" y="593" width="3" height="87" fill="#0f0"/><rect x="488" y="593" width="3" height="87" fill="#0f0"/><rect x="496" y="593" width="3" height="82" fill="#0f0"/><rect x="504" y="593" width="3" height="80" fill="#0f0"/><rect x="512" y="593" width="3" height="80" fill="#0f0"/><rect x="520" y="593" width="3" height="79" fill="#0f0"/><rect x="528" y="593" width="3" height="75" fill="#0f0"/><rect x="536" y="593" width="3" height="71" fill="#0f0"/><rect x="544" y="593" width="3" height="64" fill="#0f0"/><rect x="552" y="593" width="3" height="59" fill="#0f0"/><rect x="560" y="593" width="3" height="62" fill="#0f0"/><rect x="568" y="593" width="3" height="56" fill="#0f0"/><rect x="576" y="593" width="3" height="51" fill="#0f0"/><rect x="584" y="593" width="3" height="48" fill="#0f0"/><rect x="592" y="593" width="3" height="49" fill="#0f0"/><rect x="600" y="593" width="3" height="51" fill="#0f0"/><rect x="608" y="593" width="3" height="38" fill="#0f0"/><rect x="616" y="593" width="3" height="25" fill="#0f0"/><rect x="624" y="593" width="3" height="15" fill="#0f0"/><rect x="632" y="593" width="3" height="10" fill="#0f0"/><rect x="640" y="593" width="3" height="5" fill="#0f0"/><rect x="648" y="593" width="3" height="5" fill="#0f0"/><rect x="656" y="593" width="3" height="7" fill="#0f0"/><rect x="664" y="593" width="3" height="5" fill="#0f0"/><rect x="672" y="593" width="3" height="5" fill="#0f0"/><rect x="680" y="593" width="3" height="1" fill="#0f0"/><rect x="688" y="591" width="3" height="2" fill="#0f0"/><rect x="696" y="589" width="3" height="4" fill="#0f0"/><rect x="704" y="586" width="3" height="7" fill="#0f0"/><rect x="712" y="586" width="3" height="7" fill="#0f0"/><rect x="720" y="585" width="3" height="8" fill="#0f0"/><rect x="728" y="584" width="3" height="9" fill="#0f0"/><rect x="736" y="581" width="3" height="12" fill="#0f0"/><rect x="744" y="579" width="3" height="14" fill="#0f0"/><rect x="752" y="577" width="3" height="16" fill="#0f0"/><rect x="760" y="578" width="3" height="15" fill="#0f0"/><rect x="768" y="579" width="3" height="14" fill="#0f0"/><rect x="776" y="582" width="3" height="11" fill="#0f0"/><rect x="784" y="585" width="3" height="8" fill="#0f0"/><rect x="792" y="587" width="3" height="6" fill="#0f0"/><rect x="800" y="582" width="3" height="11" fill="#0f0"/><rect x="808" y="579" width="3" height="14" fill="#0f0"/><rect x="816" y="577" width="3" height="16" fill="#0f0"/><rect x="824" y="576" width="3" height="17" fill="#0f0"/><rect x="832" y="582" width="3" height="11" fill="#0f0"/><rect x="840" y="585" width="3" height="8" fill="#0f0"/><rect x="848" y="588" width="3" height="5" fill="#0f0"/><rect x="856" y="589" width="3" height="4" fill="#0f0"/><rect x="864" y="590" width="3" height="3" fill="#0f0"/><rect x="872" y="590" width="3" height="3" fill="#0f0"/><rect x="880" y="590" width="3" height="3" fill="#0f0"/><rect x="888" y="592" width="3" height="1" fill="#0f0"/><rect x="896" y="591" width="3" height="2" fill="#0f0"/><rect x="904" y="589" width="3" height="4" fill="#0f0"/><rect x="912" y="586" width="3" height="7" fill="#0f0"/><rect x="920" y="585" width="3" height="8" fill="#0f0"/><rect x="928" y="581" width="3" height="12" fill="#0f0"/><rect x="936" y="580" width="3" height="13" fill="#0f0"/><rect x="944" y="576" width="3" height="17" fill="#0f0"/><rect x="952" y="575" width="3" height="18" fill="#0f0"/><rect x="960" y="575" width="3" height="18" fill="#0f0"/><rect x="968" y="575" width="3" height="18" fill="#0f0"/><rect x="976" y="574" width="3" height="19" fill="#0f0"/><rect x="984" y="576" width="3" height="17" fill="#0f0"/><rect x="992" y="580" width="3" height="13" fill="#0f0"/><rect x="1000" y="585" width="3" height="8" fill="#0f0"/><rect x="1008" y="589" width="3" height="4" fill="#0f0"/><rect x="1016" y="591" width="3" height="2" fill="#0f0"/><rect x="1024" y="593" width="3" height="2" fill="#0f0"/><rect x="1032" y="593" width="3" height="4" fill="#0f0"/><rect x="1040" y="593" width="3" height="10" fill="#0f0"/><rect x="1048" y="593" width="3" height="18" fill="#0f0"/><rect x="1056" y="593" width="3" height="23" fill="#0f0"/><rect x="1064" y="593" width="3" height="27" fill="#0f0"/><rect x="1072" y="593" width="3" height="30" fill="#0f0"/><rect x="1080" y="593" width="3" height="37" fill="#0f0"/><rect x="1088" y="593" width="3" height="35" fill="#0f0"/><rect x="1096" y="593" width="3" height="32" fill="#0f0"/><rect x="1104" y="593" width="3" height="29" fill="#0f0"/><rect x="1112" y="593" width="3" height="29" fill="#0f0"/><rect x="1120" y="593" width="3" height="30" fill="#0f0"/><rect x="1128" y="593" width="3" height="31" fill="#0f0"/><rect x="1136" y="593" width="3" height="33" fill="#0f0"/><rect x="1144" y="593" width="3" height="34" fill="#0f0"/><rect x="1152" y="593" width="3" height="33" fill="#0f0"/><rect x="1160" y="593" width="3" height="33" fill="#0f0"/><rect x="1168" y="593" width="3" height="32" fill="#0f0"/><rect x="1176" y="593" width="3" height="28" fill="#0f0"/><rect x="1184" y="593" width="3" height="28" fill="#0f0"/><rect x="1192" y="593" width="3" height="28" fill="#0f0"/><rect x="1200" y="593" width="3" height="26" fill="#0f0"/><rect x="1208" y="593" width="3" height="25" fill="#0f0"/><rect x="1216" y="593" width="3" height="28" fill="#0f0"/><rect x="1224" y="593" width="3" height="39" fill="#0f0"/><rect x="1232" y="593" width="3" height="50" fill="#0f0"/><rect x="1240" y="593" width="3" height="58" fill="#0f0"/><rect x="1248" y="593" width="3" height="64" fill="#0f0"/><rect x="1256" y="593" width="3" height="67" fill="#0f0"/><rect x="1264" y="593" width="3" height="69" fill="#0f0"/><rect x="1272" y="593" width="3" height="76" fill="#0f0"/><rect x="1280" y="593" width="3" height="83" fill="#0f0"/><rect x="1288" y="593" width="3" height="86" fill="#0f0"/><rect x="1296" y="593" width="3" height="88" fill="#0f0"/>
<polyline points="-6.5,562.3 1.5,562.3 9.5,562.3 17.5,562.5 25.5,562.9 33.5,563.9 41.5,565.5 49.5,566.8 57.5,569.8 65.5,571.8 73.5,574.8 81.5,578.7 89.5,582.7 97.5,586.6 105.5,590.6 113.5,594.0 121.5,597.5 129.5,599.5 137.5,600.9 145.5,600.9 153.5,600.9 161.5,599.5 169.5,596.6 177.5,594.6 185.5,592.2 193.5,590.2 201.5,588.0 209.5,587.0 217.5,587.0 225.5,587.2 233.5,588.2 241.5,589.2 249.5,590.6 257.5,591.6 265.5,593.6 273.5,595.6 281.5,597.5 289.5,597.9 297.5,598.9 305.5,600.9 313.5,600.9 321.5,600.7 329.5,599.5 337.5,598.1 345.5,597.1 353.5,596.2 361.5,595.6 369.5,594.0 377.5,594.6 385.5,596.2 393.5,598.1 401.5,601.1 409.5,603.9 417.5,609.4 425.5,615.4 433.5,622.9 441.5,629.2 449.5,634.8 457.5,641.1 465.5,647.1 473.5,653.0 481.5,659.0 489.5,664.5 497.5,667.3 505.5,670.4 513.5,672.8 521.5,673.2 529.5,673.2 537.5,672.8 545.5,670.8 553.5,667.9 561.5,665.3 569.5,662.5 577.5,659.9 585.5,657.0 593.5,653.0 601.5,650.0 609.5,646.5 617.5,642.1 625.5,636.2 633.5,630.2 641.5,624.8 649.5,618.3 657.5,614.4 665.5,609.4 673.5,604.5 681.5,601.1 689.5,598.1 697.5,596.6 705.5,594.6 713.5,593.6 721.5,592.6 729.5,590.6 737.5,588.2 745.5,586.3 753.5,584.7 761.5,583.7 769.5,582.7 777.5,581.3 785.5,581.1 793.5,581.1 801.5,581.1 809.5,581.1 817.5,581.1 825.5,581.1 833.5,581.1 841.5,581.7 849.5,581.7 857.5,582.3 865.5,583.7 873.5,584.7 881.5,585.7 889.5,587.2 897.5,588.6 905.5,589.0 913.5,589.0 921.5,589.0 929.5,588.6 937.5,587.2 945.5,585.3 953.5,584.3 961.5,582.5 969.5,580.4 977.5,578.7 985.5,577.3 993.5,576.7 1001.5,577.1 1009.5,578.3 1017.5,580.1 1025.5,582.1 1033.5,585.1 1041.5,588.6 1049.5,592.6 1057.5,596.6 1065.5,600.5 1073.5,604.5 1081.5,609.4 1089.5,613.4 1097.5,616.4 1105.5,619.3 1113.5,621.7 1121.5,622.7 1129.5,622.9 1137.5,623.7 1145.5,623.9 1153.5,623.9 1161.5,623.5 1169.5,623.3 1177.5,622.9 1185.5,622.9 1193.5,622.9 1201.5,622.7 1209.5,621.3 1217.5,621.3 1225.5,622.3 1233.5,624.3 1241.5,626.2 1249.5,630.3 1257.5,635.5 1265.5,639.4 1273.5,646.4 1281.5,652.2 1289.5,658.3 1297.5,663.0" fill="none" stroke="#f00" stroke-width="2" />
</g>
<g id="rsi" shape-rendering="crispEdges">
<line x1="0" y1="714.5" x2="1617" y2="714.5" stroke="#000" stroke-width="1" stroke-dasharray="3 3"/>
<line x1="0" y1="750.5" x2="1617" y2="750.5" stroke="#000" stroke-width="1" stroke-dasharray="3 3"/>
<line x1="0" y1="792.5" x2="1617" y2="792.5" stroke="#000" stroke-width="1" stroke-dasharray="3 3"/>
<polyline points="-6.5,721.3 1.5,730.6 9.5,739.9 17.5,745.4 25.5,752.0 33.5,747.0 41.5,746.4 49.5,745.8 57.5,752.4 65.5,753.4 73.5,755.4 81.5,769.6 89.5,768.2 97.5,767.8 105.5,767.8 113.5,755.4 121.5,751.8 129.5,741.9 137.5,738.1 145.5,737.7 153.5,737.1 161.5,736.5 169.5,745.8 177.5,752.0 185.5,749.4 193.5,747.0 201.5,746.6 209.5,742.5 217.5,746.0 225.5,756.7 233.5,757.3 241.5,759.3 249.5,760.9 257.5,759.9 265.5,765.9 273.5,753.0 281.5,750.8 289.5,753.4 297.5,756.9 305.5,755.9 313.5,740.9 321.5,740.9 329.5,749.0 337.5,748.8 345.5,744.9 353.5,752.0 361.5,746.0 369.5,761.3 377.5,767.8 385.5,767.8 393.5,763.9 401.5,763.9 409.5,772.2 417.5,777.7 425.5,777.7 433.5,779.7 441.5,780.1 449.5,783.7 457.5,784.5 465.5,785.1 473.5,786.7 481.5,786.7 489.5,781.1 497.5,769.6 505.5,772.6 513.5,775.8 521.5,775.8 529.5,768.8 537.5,767.8 545.5,760.9 553.5,761.9 561.5,772.8 569.5,756.9 577.5,757.3 585.5,759.3 593.5,766.8 601.5,766.8 609.5,742.9 617.5,740.9 625.5,741.9 633.5,745.8 641.5,746.0 649.5,751.6 657.5,752.8 665.5,750.0 673.5,749.4 681.5,744.9 689.5,745.8 697.5,745.4 705.5,743.9 713.5,747.8 721.5,747.4 729.5,744.5 737.5,740.9 745.5,741.9 753.5,741.9 761.5,745.8 769.5,746.0 777.5,751.4 785.5,752.8 793.5,751.8 801.5,736.5 809.5,739.9 817.5,739.9 825.5,739.9 833.5,754.8 841.5,755.7 849.5,755.7 857.5,749.8 865.5,751.0 873.5,748.8 881.5,750.0 889.5,752.0 897.5,746.0 905.5,744.1 913.5,740.9 921.5,742.9 929.5,736.5 937.5,741.9 945.5,736.5 953.5,740.9 961.5,740.9 969.5,740.9 977.5,740.9 985.5,745.4 993.5,755.9 1001.5,757.7 1009.5,757.7 1017.5,755.7 1025.5,758.7 1033.5,757.7 1041.5,768.2 1049.5,773.8 1057.5,772.6 1065.5,770.8 1073.5,770.8 1081.5,779.1 1089.5,756.9 1097.5,755.7 1105.5,755.0 1113.5,760.7 1121.5,761.3 1129.5,763.3 1137.5,768.2 1145.5,763.3 1153.5,761.9 1161.5,761.9 1169.5,761.9 1177.5,755.0 1185.5,760.9 1193.5,760.9 1201.5,757.9 1209.5,757.7 1217.5,769.6 1225.5,780.5 1233.5,783.1 1241.5,780.7 1249.5,780.7 1257.5,778.5 1265.5,778.7 1273.5,785.9 1281.5,787.1 1289.5,783.0 1297.5,783.0" fill="none" stroke="#1e90ff" stroke-width="2" />
</g>
<g id="axis" shape-rendering="crispEdges">
<rect x="1620" y="51" width="2" height="1" fill="#000"/><text transform="translate(1625 55) scale(1 1.08)">1.08340</text>
<rect x="1620" y="84" width="2" height="1" fill="#000"/><text transform="translate(1625 88) scale(1 1.08)">1.07845</text>
<rect x="1620" y="117" width="2" height="1" fill="#000"/><text transform="translate(1625 121) scale(1 1.08)">1.07350</text>
<rect x="1620" y="150" width="2" height="1" fill="#000"/><text transform="translate(1625 154) scale(1 1.08)">1.06855</text>
<rect x="1620" y="183" width="2" height="1" fill="#000"/><text transform="translate(1625 187) scale(1 1.08)">1.06345</text>
<rect x="1620" y="216" width="2" height="1" fill="#000"/><text transform="translate(1625 220) scale(1 1.08)">1.05850</text>
<rect x="1620" y="249" width="2" height="1" fill="#000"/><text transform="translate(1625 253) scale(1 1.08)">1.05355</text>
<rect x="1620" y="282" width="2" height="1" fill="#000"/><text transform="translate(1625 286) scale(1 1.08)">1.04860</text>
<rect x="1620" y="315" width="2" height="1" fill="#000"/><text transform="translate(1625 319) scale(1 1.08)">1.04365</text>
<rect x="1620" y="348" width="2" height="1" fill="#000"/><text transform="translate(1625 352) scale(1 1.08)">1.03870</text>
<rect x="1620" y="381" width="2" height="1" fill="#000"/><text transform="translate(1625 385) scale(1 1.08)">1.03360</text>
<rect x="1620" y="414" width="2" height="1" fill="#000"/><text transform="translate(1625 418) scale(1 1.08)">1.02865</text>
<rect x="1620" y="447" width="2" height="1" fill="#000"/><text transform="translate(1625 451) scale(1 1.08)">1.02370</text>
<rect x="1620" y="480" width="2" height="1" fill="#000"/><text transform="translate(1625 484) scale(1 1.08)">1.01875</text>
<rect x="1620" y="513" width="2" height="1" fill="#000"/><text transform="translate(1625 517) scale(1 1.08)">1.01380</text>
<rect x="1620" y="553" width="2" height="1" fill="#000"/><text transform="translate(1622.8 561.8) scale(1 1.08)">0.003497</text><rect x="1620" y="593" width="2" height="1" fill="#000"/><text transform="translate(1622.8 596.5) scale(1 1.08)">0.00</text><rect x="1620" y="686" width="2" height="1" fill="#000"/><text transform="translate(1622.8 683.5) scale(1 1.08)">-0.007969</text>
<rect x="1620" y="691" width="2" height="1" fill="#000"/><rect x="1620" y="809" width="2" height="1" fill="#000"/><text transform="translate(1622.8 700) scale(1 1.08)">100</text><text transform="translate(1622.4 718) scale(1 1.08)">80</text><text transform="translate(1622.4 754) scale(1 1.08)">50</text><text transform="translate(1622.4 795.8) scale(1 1.08)">15</text><text transform="translate(1622.8 806.8) scale(1 1.08)">0</text>
<rect x="1621" y="405" width="41" height="11" fill="#f00"/><text class="w" transform="translate(1625 413.7) scale(1 1.08)">1.02913</text><rect x="1613" y="408" width="6" height="6" fill="#f00"/><rect x="1615" y="410" width="2" height="2" fill="#fff"/>
<rect x="1621" y="436" width="41" height="11" fill="#f00"/><text class="w" transform="translate(1625 444.7) scale(1 1.08)">1.02442</text><rect x="1613" y="439" width="6" height="6" fill="#f00"/><rect x="1615" y="441" width="2" height="2" fill="#fff"/>
<rect x="1621" y="467" width="41" height="11" fill="#ffa500"/><text class="w" transform="translate(1625 475.7) scale(1 1.08)">1.01978</text><rect x="1613" y="470" width="6" height="6" fill="#ffa500"/><rect x="1615" y="472" width="2" height="2" fill="#fff"/>
<rect x="1621" y="482" width="41" height="11" fill="#000"/><text class="w" transform="translate(1625 490.7) scale(1 1.08)">1.01774</text>
<rect x="1621" y="513" width="41" height="11" fill="#00f"/><text class="w" transform="translate(1625 521.7) scale(1 1.08)">1.01292</text><rect x="1613" y="516" width="6" height="6" fill="#00f"/><rect x="1615" y="518" width="2" height="2" fill="#fff"/>
<rect x="1621" y="541" width="41" height="11" fill="#00f"/><text class="w" transform="translate(1625 549.7) scale(1 1.08)">1.00870</text><rect x="1613" y="544" width="6" height="6" fill="#00f"/><rect x="1615" y="546" width="2" height="2" fill="#fff"/>
<text transform="translate(-7.6 823) scale(1 1.08)">30 May 2022</text>
<rect x="57" y="811" width="1" height="3" fill="#000"/><text transform="translate(56 823) scale(1 1.08)">1 Jun 00:00</text>
<rect x="121" y="811" width="1" height="3" fill="#000"/><text transform="translate(120 823) scale(1 1.08)">2 Jun 08:00</text>
<rect x="185" y="811" width="1" height="3" fill="#000"/><text transform="translate(184 823) scale(1 1.08)">3 Jun 16:00</text>
<rect x="249" y="811" width="1" height="3" fill="#000"/><text transform="translate(248 823) scale(1 1.08)">7 Jun 00:00</text>
<rect x="313" y="811" width="1" height="3" fill="#000"/><text transform="translate(312 823) scale(1 1.08)">8 Jun 08:00</text>
<rect x="377" y="811" width="1" height="3" fill="#000"/><text transform="translate(376 823) scale(1 1.08)">9 Jun 16:00</text>
<rect x="441" y="811" width="1" height="3" fill="#000"/><text transform="translate(440 823) scale(1 1.08)">13 Jun 00:00</text>
<rect x="505" y="811" width="1" height="3" fill="#000"/><text transform="translate(504 823) scale(1 1.08)">14 Jun 08:00</text>
<rect x="569" y="811" width="1" height="3" fill="#000"/><text transform="translate(568 823) scale(1 1.08)">15 Jun 16:00</text>
<rect x="633" y="811" width="1" height="3" fill="#000"/><text transform="translate(632 823) scale(1 1.08)">17 Jun 00:00</text>
<rect x="697" y="811" width="1" height="3" fill="#000"/><text transform="translate(696 823) scale(1 1.08)">20 Jun 08:00</text>
<rect x="761" y="811" width="1" height="3" fill="#000"/><text transform="translate(760 823) scale(1 1.08)">21 Jun 16:00</text>
<rect x="825" y="811" width="1" height="3" fill="#000"/><text transform="translate(824 823) scale(1 1.08)">23 Jun 00:00</text>
<rect x="889" y="811" width="1" height="3" fill="#000"/><text transform="translate(888 823) scale(1 1.08)">24 Jun 08:00</text>
<rect x="953" y="811" width="1" height="3" fill="#000"/><text transform="translate(952 823) scale(1 1.08)">27 Jun 16:00</text>
<rect x="1017" y="811" width="1" height="3" fill="#000"/><text transform="translate(1016 823) scale(1 1.08)">29 Jun 00:00</text>
<rect x="1081" y="811" width="1" height="3" fill="#000"/><text transform="translate(1080 823) scale(1 1.08)">30 Jun 08:00</text>
<rect x="1145" y="811" width="1" height="3" fill="#000"/><text transform="translate(1144 823) scale(1 1.08)">1 Jul 16:00</text>
<rect x="1209" y="811" width="1" height="3" fill="#000"/><text transform="translate(1208 823) scale(1 1.08)">5 Jul 00:00</text>
<rect x="1273" y="811" width="1" height="3" fill="#000"/><text transform="translate(1272 823) scale(1 1.08)">6 Jul 08:00</text>
</g>
<path d="M1287.5 23.5 L1297.5 23.5 L1292.5 28.9 Z" fill="#000" shape-rendering="crispEdges"/>
<path d="M-4 30 L3 30 L-0.5 33.5 Z" fill="#000"/>
<text transform="translate(8.4 35) scale(1 1.08)" style="letter-spacing:-0.27px">EURUSD-,H4&#160; 1.01858 1.01874 1.01774 1.01774</text>
<text transform="translate(-2 564) scale(1 1.08)"><tspan style="letter-spacing:-0.1px">MACD(12,26,9)</tspan> -0.007447 -0.005992</text>
<text transform="translate(-1.5 702) scale(1 1.08)">RSI(14) 22.5494</text>
<g id="toolbar">
<g shape-rendering="crispEdges"><rect x="0" y="17" width="51" height="1" fill="#a8a8a8"/><rect x="50" y="0" width="1" height="18" fill="#a8a8a8"/></g>
<path d="M-6 8.3 H5 V12 H1.3 V15.8 H-2 V4 H1.3 V8.3 Z" fill="#0d0" stroke="#0a0" stroke-width="0.6"/>
<text class="cj" x="8" y="9" textLength="36" lengthAdjust="spacingAndGlyphs">新订单</text>
<path d="M62.4 -0.5 L73 8.2 L72.6 10 L65 15 L57.2 9.6 L57.2 8.6 Z" fill="#b9801c" stroke="#a06a10" stroke-width="0.7"/><path d="M62.6 -1 L72.4 7.8 L64.8 13.6 L57.6 8.5 Z" fill="#efc22c"/><path d="M63 0 L66 2.6 L61 10.5 L58.3 8.5 Z" fill="#f7dc6a" opacity=".7"/>
<path d="M87.3 -1 H98.3 V8 H87.3 Z" fill="#1e90ff"/><path d="M87.3 -1 L90 1 V9 L87.3 8 Z" fill="#0a6fe0"/><rect x="91.5" y="3.2" width="5.5" height="1.6" fill="#cfe6ff"/><path d="M86.8 14.3 C84.4 14.3 84.2 10.6 87 10.4 C87 8.6 89.4 8.2 90.2 9.2 C90.8 6.4 95.2 6.4 95.9 9 C97.6 7.8 99.9 8.8 99.5 10.6 C101.8 10.8 101.7 14.3 99.2 14.3 Z" fill="#eef2fa" stroke="#5570b0" stroke-width="0.9"/>
<g fill="none" stroke="#4a78d8" stroke-width="1"><circle cx="121" cy="6.7" r="7.6" opacity=".55"/><circle cx="121" cy="6.7" r="5.2" opacity=".7"/><circle cx="121" cy="6.7" r="2.8" opacity=".8"/></g><path d="M121 6.7 L121 14.6 A7.9 7.9 0 0 0 128.9 6.7 A7.9 7.9 0 0 0 124 -0.6 Z" fill="#7fc07f" opacity=".6"/><circle cx="121" cy="6.4" r="1.7" fill="#1f4fc8"/><rect x="120.6" y="7" width="1.2" height="7.6" fill="#1aa01a"/>
<path d="M140.2 6 L156.6 6 L149.5 14.8 Z" fill="#f5d23c" stroke="#c9a020" stroke-width=".6"/><path d="M145.5 -1 L151.5 -1 L153 3.5 C156 3.2 157 4.6 155 5.6 C151 7.6 145 7.6 141.5 5.6 C139.4 4.4 141 3.2 144 3.5 Z" fill="#58b4ea" stroke="#2f86c0" stroke-width=".6"/><circle cx="152.6" cy="10.6" r="4.1" fill="#e42a10"/><rect x="151.1" y="9.2" width="3" height="2.9" fill="#fff"/>
<text class="cj" x="161.3" y="9.5" textLength="46.8" lengthAdjust="spacingAndGlyphs">自动交易</text>
<g shape-rendering="crispEdges"><rect x="216" y="0" width="1" height="17" fill="#a0a0a0"/><rect x="217" y="0" width="1" height="17" fill="#fff"/><rect x="220" y="1" width="3" height="1" fill="#a8a8a8"/><rect x="220" y="3" width="3" height="1" fill="#a8a8a8"/><rect x="220" y="5" width="3" height="1" fill="#a8a8a8"/><rect x="220" y="7" width="3" height="1" fill="#a8a8a8"/><rect x="220" y="9" width="3" height="1" fill="#a8a8a8"/><rect x="220" y="11" width="3" height="1" fill="#a8a8a8"/><rect x="220" y="13" width="3" height="1" fill="#a8a8a8"/><rect x="220" y="15" width="3" height="1" fill="#a8a8a8"/><rect x="254" y="0" width="1" height="17" fill="#a0a0a0"/><rect x="255" y="0" width="1" height="17" fill="#fff"/><rect x="256" y="0" width="24" height="18" fill="#fafafa"/><rect x="311" y="0" width="1" height="17" fill="#a0a0a0"/><rect x="312" y="0" width="1" height="17" fill="#fff"/><rect x="401" y="0" width="1" height="17" fill="#a0a0a0"/><rect x="402" y="0" width="1" height="17" fill="#fff"/><rect x="405" y="0" width="1" height="17" fill="#a0a0a0"/><rect x="406" y="0" width="1" height="17" fill="#fff"/><rect x="407" y="0" width="24" height="18" fill="#fafafa"/><rect x="434" y="0" width="1" height="17" fill="#a0a0a0"/><rect x="435" y="0" width="1" height="17" fill="#fff"/><rect x="436" y="0" width="23" height="18" fill="#fafafa"/><rect x="463" y="0" width="1" height="17" fill="#a0a0a0"/><rect x="464" y="0" width="1" height="17" fill="#fff"/><rect x="584" y="0" width="1" height="17" fill="#a0a0a0"/><rect x="585" y="0" width="1" height="17" fill="#fff"/><rect x="588" y="1" width="3" height="1" fill="#a8a8a8"/><rect x="588" y="3" width="3" height="1" fill="#a8a8a8"/><rect x="588" y="5" width="3" height="1" fill="#a8a8a8"/><rect x="588" y="7" width="3" height="1" fill="#a8a8a8"/><rect x="588" y="9" width="3" height="1" fill="#a8a8a8"/><rect x="588" y="11" width="3" height="1" fill="#a8a8a8"/><rect x="588" y="13" width="3" height="1" fill="#a8a8a8"/><rect x="588" y="15" width="3" height="1" fill="#a8a8a8"/><rect x="594" y="0" width="1" height="17" fill="#a0a0a0"/><rect x="595" y="0" width="1" height="17" fill="#fff"/><rect x="596" y="0" width="23" height="18" fill="#fafafa"/><rect x="651" y="0" width="1" height="17" fill="#a0a0a0"/><rect x="652" y="0" width="1" height="17" fill="#fff"/><rect x="890" y="0" width="1" height="17" fill="#a0a0a0"/><rect x="891" y="0" width="1" height="17" fill="#fff"/><rect x="894" y="1" width="3" height="1" fill="#a8a8a8"/><rect x="894" y="3" width="3" height="1" fill="#a8a8a8"/><rect x="894" y="5" width="3" height="1" fill="#a8a8a8"/><rect x="894" y="7" width="3" height="1" fill="#a8a8a8"/><rect x="894" y="9" width="3" height="1" fill="#a8a8a8"/><rect x="894" y="11" width="3" height="1" fill="#a8a8a8"/><rect x="894" y="13" width="3" height="1" fill="#a8a8a8"/><rect x="894" y="15" width="3" height="1" fill="#a8a8a8"/><rect x="1040" y="0" width="1" height="17" fill="#a0a0a0"/><rect x="1041" y="0" width="1" height="17" fill="#fff"/><rect x="1042" y="0" width="24" height="18" fill="#fafafa"/><rect x="1151" y="0" width="1" height="17" fill="#a0a0a0"/><rect x="1152" y="0" width="1" height="17" fill="#fff"/></g>
<g shape-rendering="crispEdges" fill="#555"><rect x="234" y="1" width="1" height="14"/><rect x="232" y="12" width="14" height="1"/></g><path d="M234.5 -1 l-2 3 h4 Z M248 12.5 l-3 -2 v4 Z" fill="#555"/><path d="M240.5 3.5 V10.5 M238 10.5 H240.5 M240.5 3.5 H243.5" stroke="#1a9a1a" stroke-width="1.2" fill="none"/>
<g shape-rendering="crispEdges" fill="#555"><rect x="262" y="1" width="1" height="14"/><rect x="260" y="12" width="14" height="1"/></g><path d="M262.5 -1 l-2 3 h4 Z M276 12.5 l-3 -2 v4 Z" fill="#555"/><rect x="266.5" y="0" width="4.6" height="8" fill="#3edc3e" stroke="#178a17" stroke-width="1"/><rect x="268.3" y="8" width="1" height="2.5" fill="#178a17"/>
<g shape-rendering="crispEdges" fill="#555"><rect x="290" y="1" width="1" height="14"/><rect x="288" y="12" width="14" height="1"/></g><path d="M290.5 -1 l-2 3 h4 Z M304 12.5 l-3 -2 v4 Z" fill="#555"/><path d="M289 9.5 C292 5 294 2.5 296 3.5 C298.5 5 299 7 301.5 8" stroke="#1a9a1a" stroke-width="1.2" fill="none"/>
<path d="M330 8.5 L335.5 13.5" stroke="#c9a227" stroke-width="2.6" stroke-linecap="round"/><circle cx="326" cy="4.6" r="5.6" fill="#d6ecfb" stroke="#3f86c9" stroke-width="1.2"/><path d="M323 4.6 H329 M326 1.6 V7.6" stroke="#2f78c0" stroke-width="1.5"/>
<path d="M358.3 8.5 L363.8 13.5" stroke="#c9a227" stroke-width="2.6" stroke-linecap="round"/><circle cx="354.3" cy="4.6" r="5.6" fill="#d6ecfb" stroke="#3f86c9" stroke-width="1.2"/><path d="M351.3 4.6 H357.3" stroke="#2f78c0" stroke-width="1.5"/>
<g shape-rendering="crispEdges"><rect x="376" y="-1" width="7.5" height="7.5" fill="#3a9a20"/><rect x="384.5" y="-1" width="7.5" height="7.5" fill="#2a5fd0"/><rect x="376" y="7.5" width="7.5" height="7.5" fill="#2a5fd0"/><rect x="384.5" y="7.5" width="7.5" height="7.5" fill="#3a9a20"/><rect x="377.5" y="2" width="4.5" height="3" fill="#eef4ff"/><rect x="386" y="2" width="4.5" height="3" fill="#eef4ff"/><rect x="377.5" y="10.5" width="4.5" height="3" fill="#eef4ff"/><rect x="386" y="10.5" width="4.5" height="3" fill="#eef4ff"/></g>
<g shape-rendering="crispEdges" fill="#555"><rect x="414" y="1" width="1" height="14"/><rect x="412" y="12" width="14" height="1"/></g><path d="M414.5 -1 l-2 3 h4 Z M428 12.5 l-3 -2 v4 Z" fill="#555"/><path d="M419 2.5 L423.2 6.5 L419 10.5 Z" fill="#2cc82c" stroke="#178a17" stroke-width=".6"/>
<g shape-rendering="crispEdges" fill="#555"><rect x="442" y="1" width="1" height="14"/><rect x="440" y="12" width="14" height="1"/></g><path d="M442.5 -1 l-2 3 h4 Z M456 12.5 l-3 -2 v4 Z" fill="#555"/><rect x="448" y="1" width="1" height="10" fill="#1a6aa8" shape-rendering="crispEdges"/><path d="M450 6.7 L454.5 6.7 M450 6.7 l2.2 -2 M450 6.7 l2.2 2" stroke="#d83a10" stroke-width="1.1" fill="none"/>
<path d="M473.5 -1 H481 L484 2 V12 H473.5 Z" fill="#fff" stroke="#8a8a8a" stroke-width="1"/><path d="M478.6 1.8 C476.6 2.2 476.8 5 476.6 9.2 M475.6 5.4 H478.2" stroke="#4a4030" stroke-width=".9" fill="none"/><path d="M481.3 5.2 H485 V9 H488.8 V12.7 H485 V16.6 H481.3 V12.7 H477.4 V9 H481.3 Z" fill="#14dc2a" stroke="#0a9a14" stroke-width=".8"/><path d="M478.4 10.2 H487.8 M483.1 6.2 V9.5" stroke="#7af58a" stroke-width="1" opacity=".7"/>
<path d="M495.2 6 h5.4 l-2.7 2.8 Z" fill="#000"/><circle cx="519" cy="6.9" r="6.8" fill="#f3f3f3" stroke="#1568d2" stroke-width="2.3"/><circle cx="519" cy="6.9" r="7.7" fill="none" stroke="#4aa0f0" stroke-width=".6"/><path d="M518.6 3.6 V6.6 L521.4 6.9" stroke="#222" stroke-width="1.1" fill="none"/><path d="M519 1.6 v1 M519 11.2 v1 M513.8 6.9 h1 M523.4 6.9 h1" stroke="#888" stroke-width=".8"/><path d="M534.3 6 h5.4 l-2.7 2.8 Z" fill="#000"/>
<g shape-rendering="crispEdges"><rect x="550.5" y="-1" width="15" height="14.5" fill="#fff" stroke="#2f6ec0" stroke-width="1"/><rect x="550" y="-1" width="16" height="3" fill="#3a7ad0"/><rect x="551" y="8" width="14" height="1" fill="#a8c8ea"/></g><path d="M552.2 6.2 l1.6 0 l1.8 -1.4 l1.6 -.4 l1.6 1 l1.8 0 l1.8 -1 l1.2 0" stroke="#a02808" stroke-width="1.1" fill="none"/><path d="M553 11.4 l1.8 -1 l1.6 1 l1.6 0 l2.2 -2 l1.4 .4 l1.6 1.6" stroke="#128a12" stroke-width="1.1" fill="none"/><path d="M573.2 6 h5.4 l-2.7 2.8 Z" fill="#000"/>
<path d="M602.3 -1.5 L602.3 10.8 L604.9 8.4 L607 13.9 L608.8 13.2 L606.8 7.7 L610.2 7.5 Z" fill="#505050"/>
<g shape-rendering="crispEdges" fill="#555"><rect x="634" y="0" width="1" height="15"/><rect x="627" y="7" width="15" height="1"/><rect x="668" y="1" width="1" height="13"/><rect x="691" y="7" width="12" height="1"/></g>
<path d="M718.7 13.9 L731.2 1.9" stroke="#555" stroke-width="1.1"/>
<path d="M744.8 9.2 L757.5 -1.5 M747.6 13.6 L760.5 2.2 M747.4 7.2 l2.4 5 M749.8 5.2 l2.4 5 M752.2 3.2 l2.4 5 M754.6 1.2 l2.4 5 M756.8 -0.8 l2 4.4" stroke="#555" stroke-width="1" fill="none"/><text x="755.6" y="16" style="font-size:7px;font-weight:bold" class="tb">E</text>
<line x1="774" y1="0.5" x2="787" y2="0.5" stroke="#555" stroke-width="1" stroke-dasharray="1 1" shape-rendering="crispEdges"/><line x1="774" y1="4.5" x2="787" y2="4.5" stroke="#555" stroke-width="1" stroke-dasharray="1 1" shape-rendering="crispEdges"/><line x1="774" y1="7.5" x2="787" y2="7.5" stroke="#555" stroke-width="1" stroke-dasharray="1 1" shape-rendering="crispEdges"/><line x1="774" y1="11.5" x2="787" y2="11.5" stroke="#555" stroke-width="1" stroke-dasharray="1 1" shape-rendering="crispEdges"/><text x="783.5" y="16" style="font-size:7px;font-weight:bold" class="tb">F</text>
<text x="804.3" y="12" style="font-size:12.5px" class="tb">A</text>
<rect x="831.5" y="1.5" width="11" height="12" fill="none" stroke="#555" stroke-width="1" stroke-dasharray="1 1" shape-rendering="crispEdges"/><text x="833.9" y="12" style="font-size:11.5px;stroke:#555;stroke-width:.5px;letter-spacing:0" class="tb">T</text>
<path d="M861.3 0.6 l3.5 4.2 h-7 Z M868.4 14.2 l-3.7 -4.8 h7.4 Z" fill="#555"/><path d="M860.5 8 l2 2 l5.5 -5.5" stroke="#555" stroke-width="1.2" fill="none"/><path d="M878.8 6 h5.4 l-2.7 2.8 Z" fill="#000"/>
<text class="tb" x="905.3" y="10.8">M1</text><text class="tb" x="933.2" y="10.8">M5</text><text class="tb" x="959.5" y="10.8">M15</text><text class="tb" x="987.6" y="10.8">M30</text><text class="tb" x="1018.4" y="10.8">H1</text><text class="tb" x="1045.3" y="10.8">H4</text><text class="tb" x="1074.3" y="10.8">D1</text><text class="tb" x="1101.8" y="10.8">W1</text><text class="tb" x="1128.5" y="10.8">MN</text>
<path d="M1618.8 7.6 L1614.2 11.6" stroke="#2458d0" stroke-width="2.4" stroke-linecap="round"/><circle cx="1621.6" cy="4.4" r="4" fill="#f2f2ff" stroke="#2a5cd6" stroke-width="1.2"/>
<path d="M1638.2 9 C1638.2 5.6 1640.8 4.4 1643.6 4.4 C1646.6 4.4 1649.2 5.8 1649.2 9 C1649.2 12 1647 13.6 1643.8 13.7 L1641.2 15.8 L1641.6 13.4 C1639.4 12.8 1638.2 11.4 1638.2 9 Z" fill="#e6e6ea" stroke="#b4b4b4" stroke-width=".8"/><circle cx="1652.5" cy="4.3" r="8.3" fill="#de3018"/><text x="1648.6" y="8.9" style="font-size:13.5px;font-weight:bold;letter-spacing:0;font-family:'Liberation Serif',serif" class="w">1</text>
</g>
</svg>
</body></html>
